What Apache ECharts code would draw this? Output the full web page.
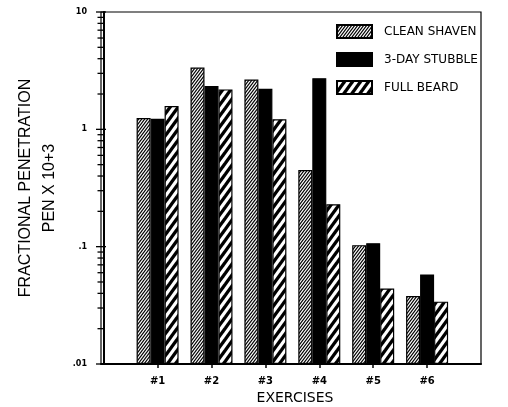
<!DOCTYPE html>
<html><head><meta charset="utf-8">
<script src="https://cdn.jsdelivr.net/npm/echarts@6/dist/echarts.min.js"></script>
<style>html,body{margin:0;padding:0;background:#fff}#c{width:508px;height:407px}</style>
</head><body><div id="c"></div>
<script>
// ---- data ----
const categories = ['#1', '#2', '#3', '#4', '#5', '#6'];
const categoryPositions = [1, 2, 3, 4, 5, 6];
const seriesNames = ['CLEAN SHAVEN', '3-DAY STUBBLE', 'FULL BEARD'];
const cleanShaven = [1.25, 3.36, 2.66, 0.45, 0.103, 0.038];
const stubble = [1.23, 2.34, 2.22, 2.73, 0.107, 0.058];
const fullBeard = [1.58, 2.19, 1.22, 0.23, 0.044, 0.034];
const yMajorTicks = [0.01, 0.1, 1, 10];
const yMinorTicks = [0.02, 0.03, 0.04, 0.05, 0.06, 0.07, 0.08, 0.09,
                     0.2, 0.3, 0.4, 0.5, 0.6, 0.7, 0.8, 0.9,
                     2, 3, 4, 5, 6, 7, 8, 9];
const yAxisTitle = 'FRACTIONAL PENETRATION\nPEN X 10+3';
const xAxisTitle = 'EXERCISES';

function makeHatch(w, h, lw) {
  const c = document.createElement('canvas');
  c.width = w; c.height = h;
  const ctx = c.getContext('2d');
  ctx.fillStyle = '#fff';
  ctx.fillRect(0, 0, w, h);
  ctx.strokeStyle = '#000';
  ctx.lineWidth = lw;
  ctx.lineCap = 'square';
  for (const dx of [-w, 0, w]) {
    ctx.beginPath();
    ctx.moveTo(dx, h);
    ctx.lineTo(dx + w, 0);
    ctx.stroke();
  }
  return { image: c, repeat: 'repeat' };
}
const fineHatch = makeHatch(3, 4, 1.2);
const coarseHatch = makeHatch(8, 11, 3.3);

function pairs(arr) { return categoryPositions.map((x, i) => [x, arr[i]]); }

const chart = echarts.init(document.getElementById('c'), null, { renderer: 'canvas' });
const barCommon = { type: 'bar', barWidth: 14, barGap: '0%' };
const option = {
  animation: false,
  backgroundColor: '#fff',
  grid: { left: 101, right: 27, top: 12, bottom: 43, show: true, borderColor: '#000', borderWidth: 1.2,
          containLabel: false, outerBoundsMode: 'none' },
  legend: {
    orient: 'vertical', left: 331, top: 19, itemWidth: 35, itemHeight: 13, itemGap: 13,
    icon: 'rect', selectedMode: false,
    data: seriesNames,
    textStyle: { fontFamily: 'DejaVu Sans', fontSize: 12, color: '#000', padding: [0, 0, 0, 7] }
  },
  xAxis: {
    type: 'value', min: -0.05, max: 7,
    name: xAxisTitle, nameLocation: 'middle', nameGap: 27,
    nameTextStyle: { fontFamily: 'DejaVu Sans', fontSize: 14, color: '#000', padding: [0, 0, 0, 8] },
    axisLine: { lineStyle: { color: '#000', width: 2 } },
    splitLine: { show: false },
    axisTick: { customValues: categoryPositions, length: 4, lineStyle: { color: '#000', width: 1.5 } },
    axisLabel: {
      customValues: categoryPositions,
      formatter: v => categories[Math.round(v) - 1] || '',
      margin: 12, fontFamily: 'DejaVu Sans', fontWeight: 'bold', fontSize: 10, color: '#000'
    }
  },
  yAxis: {
    type: 'log', logBase: 10, min: 0.01, max: 10, startValue: 0.01,
    name: yAxisTitle, nameLocation: 'middle', nameRotate: 90, nameGap: 39,
    nameTextStyle: { fontFamily: 'Liberation Sans', fontSize: 16, lineHeight: 24, color: '#000', align: 'center' },
    axisLine: { show: true, lineStyle: { color: '#000', width: 2 } },
    axisTick: { show: false },
    splitLine: { show: false },
    axisLabel: {
      formatter: v => String(+(+v).toPrecision(3)).replace(/^0\./, '.'),
      margin: 14, fontFamily: 'DejaVu Sans', fontWeight: 'bold', fontSize: 8, color: '#000'
    }
  },
  series: [
    Object.assign({}, barCommon, { name: seriesNames[0], data: pairs(cleanShaven),
      itemStyle: { color: fineHatch, borderColor: '#000', borderWidth: 1.2 } }),
    Object.assign({}, barCommon, { name: seriesNames[1], data: pairs(stubble),
      itemStyle: { color: '#000', borderColor: '#000', borderWidth: 1.2 } }),
    Object.assign({}, barCommon, { name: seriesNames[2], data: pairs(fullBeard),
      itemStyle: { color: coarseHatch, borderColor: '#000', borderWidth: 1.2 } })
  ]
};
chart.setOption(option);

// axis ticks crossing the y axis line (major and minor, log positions)
const x0 = chart.convertToPixel({ xAxisIndex: 0 }, -0.05);
const tickGraphics = [];
yMajorTicks.concat(yMinorTicks).forEach(v => {
  const y = chart.convertToPixel({ yAxisIndex: 0 }, v);
  const half = yMajorTicks.indexOf(v) >= 0 ? 5 : 3.5;
  tickGraphics.push({ type: 'line', silent: true, z: 10,
    shape: { x1: x0 - half, y1: y, x2: x0 + half, y2: y },
    style: { stroke: '#000', lineWidth: 1.3 } });
});
chart.setOption({ graphic: tickGraphics });
</script>
</body></html>
